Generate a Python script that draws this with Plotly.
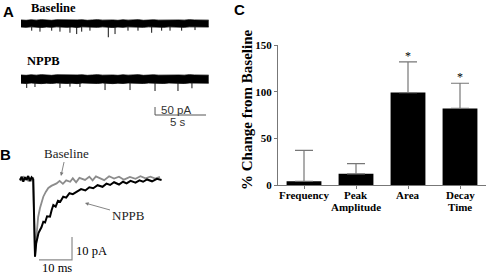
import plotly.graph_objects as go

W, H = 490, 277

def xp(px):
    return px / W

def yp(py):
    return 1 - py / H

# ---------------- Panel A data (time in s, current in pA) ----------------
a_time = [0, 0.5, 1, 1.5, 2, 2.5, 3, 3.5, 4, 4.5, 5, 5.5, 6, 6.5, 7, 7.5, 8, 8.5, 9,
          9.5, 10, 10.5, 11, 11.5, 12, 12.5, 13, 13.5, 14, 14.5, 15, 15.5, 16, 16.5,
          17, 17.5, 18, 18.4]
base_upper = [22, 20, 23, 21, 24, 22, 20, 23, 22, 21, 24, 22, 23, 20, 22, 24, 21, 23, 22,
              20, 23, 21, 22, 24, 20, 22, 23, 21, 22, 20, 23, 22, 21, 24, 22, 20, 22, 21]
base_lower = [-22, -24, -21, -23, -25, -22, -24, -21, -23, -24, -22, -25, -21, -23, -22, -24,
              -21, -23, -25, -22, -24, -21, -23, -22, -24, -21, -23, -22, -24, -21, -23, -22,
              -24, -21, -22, -23, -21, -22]
base_spike_t = [1.05, 1.86, 3.01, 3.82, 4.80, 5.46, 5.95, 6.76, 8.56, 9.22, 10.49, 11.47,
                12.81, 13.79, 14.61, 15.75, 17.06]
base_spike_amp = [-45, -51, -45, -51, -58, -66, -51, -45, -86, -66, -45, -45, -58, -45, -45, -45, -41]

nppb_upper = [25, 23, 26, 24, 27, 25, 23, 26, 25, 24, 27, 25, 26, 23, 25, 27, 24, 26, 25,
              23, 26, 24, 25, 27, 23, 25, 26, 24, 25, 23, 26, 25, 24, 27, 25, 23, 25, 24]
nppb_lower = [-26, -28, -25, -27, -29, -26, -28, -25, -27, -28, -26, -29, -25, -27, -26, -28,
              -25, -27, -29, -26, -28, -25, -27, -26, -28, -25, -27, -26, -28, -25, -27, -26,
              -28, -25, -26, -27, -25, -26]
nppb_spike_t = [0.56, 1.37, 3.82, 4.80, 5.78, 8.24, 10.69, 13.14, 15.39, 16.76]
nppb_spike_amp = [-56, -50, -56, -48, -50, -69, -69, -75, -75, -58]

# ---------------- Panel B data (time in ms, current in pA) ----------------
b_base_t = [0, 0.5, 1, 1.5, 2, 2.5, 3, 3.5, 4.0, 4.55, 4.8, 5.06, 5.5, 6.06, 6.5, 7.06, 7.8,
            8.58, 9.5, 10.5, 11.1, 12, 13, 14, 15.2, 16, 17, 18, 19.7, 21, 22, 23, 24.2, 25.5,
            27, 28.5, 30, 31.5, 33.3, 35, 36.5, 38, 39.5, 41, 42.4]
b_base_i = [0.5, -0.8, 1.2, -0.3, 0.9, -1.0, 0.6, -0.5, 0.8, -33.8, -28.0, -22.2, -16.5, -12.6,
            -9.8, -7.7, -5.6, -3.9, -3.0, -2.2, -1.9, -0.8, -2.1, -0.6, -1.2, 0.3, -1.4, 0.5,
            -0.4, 1.0, -0.6, 1.1, 0.4, -0.5, 1.2, 0.2, 1.0, -0.3, 0.9, 0.1, 1.2, 0.3, 1.0, 0.2, 0.9]
b_nppb_t = [0, 0.5, 1, 1.5, 2, 2.5, 3, 3.5, 4.0, 4.55, 4.9, 5.24, 5.6, 6.06, 6.5, 7.06, 7.6,
            8.2, 9.09, 9.6, 10.1, 10.8, 11.5, 12.2, 13.1, 14, 15, 16, 17.2, 18.5, 19.8, 21,
            22.2, 23.5, 25, 26.2, 27.3, 28.5, 30, 31.2, 32.3, 33.5, 35, 36.2, 37.3, 38.5, 40,
            41.5, 42.9]
b_nppb_i = [-0.6, 1.0, -1.2, 0.8, -0.4, 1.3, -0.9, 0.7, -0.2, -33.8, -28.0, -25.1, -23.5,
            -22.2, -21.0, -18.6, -18.9, -16.2, -16.4, -13.5, -11.3, -12.0, -9.5, -9.9, -7.7,
            -8.1, -6.2, -6.6, -5.5, -4.4, -5.0, -3.6, -4.0, -2.7, -3.4, -2.0, -2.6, -1.4, -2.4,
            -1.2, -1.9, -0.8, -1.6, -0.6, -1.2, -0.2, -1.0, 0.1, -0.4]

# ---------------- Panel C data ----------------
categories = ["Frequency", "Peak<br>Amplitude", "Area", "Decay<br>Time"]
pct_change = [4, 12, 99, 82]
pct_err = [33, 11, 33, 27]
significance = ["", "", "*", "*"]
y_ticks = [0, 50, 100, 150]

fig = go.Figure()

# Panel A traces
def add_band(t, upper, lower, spike_t, spike_amp, yax):
    fig.add_trace(go.Scatter(x=t, y=upper, mode="lines", line=dict(color="black", width=0.8),
                             xaxis="x", yaxis=yax, showlegend=False, hoverinfo="skip"))
    fig.add_trace(go.Scatter(x=t, y=lower, mode="lines", line=dict(color="black", width=0.8),
                             fill="tonexty", fillcolor="black",
                             xaxis="x", yaxis=yax, showlegend=False, hoverinfo="skip"))
    sx, sy = [], []
    for st, sa in zip(spike_t, spike_amp):
        sx += [st, st, None]
        sy += [-20, sa, None]
    fig.add_trace(go.Scatter(x=sx, y=sy, mode="lines", line=dict(color="#111", width=1),
                             xaxis="x", yaxis=yax, showlegend=False, hoverinfo="skip"))

add_band(a_time, base_upper, base_lower, base_spike_t, base_spike_amp, "y")
add_band(a_time, nppb_upper, nppb_lower, nppb_spike_t, nppb_spike_amp, "y2")

# Panel A scale bar (50 pA / 5 s)
fig.add_trace(go.Scatter(x=[13.14, 13.14, 18.14], y=[-175, -225, -225], mode="lines",
                         line=dict(color="#555", width=1), xaxis="x", yaxis="y2",
                         showlegend=False, hoverinfo="skip"))

# Panel B traces
fig.add_trace(go.Scatter(x=b_base_t, y=b_base_i, mode="lines", line=dict(color="#8c8c8c", width=1.8),
                         xaxis="x3", yaxis="y3", showlegend=False, hoverinfo="skip"))
fig.add_trace(go.Scatter(x=b_nppb_t, y=b_nppb_i, mode="lines", line=dict(color="black", width=2),
                         xaxis="x3", yaxis="y3", showlegend=False, hoverinfo="skip"))
# Panel B scale bar (10 pA / 10 ms)
fig.add_trace(go.Scatter(x=[5.76, 15.76, 15.76], y=[-35.2, -35.2, -25.2], mode="lines",
                         line=dict(color="#8c8c8c", width=1.2), xaxis="x3", yaxis="y3",
                         showlegend=False, hoverinfo="skip"))

# Panel C bars
xpos = list(range(len(categories)))
fig.add_trace(go.Bar(x=xpos, y=pct_change, width=0.67, marker=dict(color="black", line=dict(width=0)),
                     error_y=dict(type="data", array=pct_err, arrayminus=[0] * 4, symmetric=False,
                                  color="#777", thickness=1.2, width=9),
                     xaxis="x4", yaxis="y4", showlegend=False, hoverinfo="skip"))

serif = "Liberation Serif, Times New Roman, serif"
sans = "Liberation Sans, Arial, sans-serif"

annotations = []
for i, s in enumerate(significance):
    if s:
        annotations.append(dict(x=i, y=pct_change[i] + pct_err[i], xref="x4", yref="y4", text=s,
                                showarrow=False, yanchor="middle", yshift=6,
                                font=dict(family=serif, size=12, color="#000000")))

# category labels under the C axis (one annotation per text line)
for i, c in enumerate(categories):
    for j, line in enumerate(c.split("<br>")):
        annotations.append(dict(x=i, xref="x4", y=yp(195 + 12.3 * j), yref="paper",
                                text=f"<b>{line}</b>", showarrow=False,
                                xanchor="center", yanchor="middle",
                                font=dict(family=serif, size=11, color="black")))

def txt(text, x, y, size, family=serif, bold=False, color="black"):
    annotations.append(dict(x=xp(x), y=yp(y), xref="paper", yref="paper",
                            text=f"<b>{text}</b>" if bold else text, showarrow=False,
                            xanchor="center", yanchor="middle",
                            font=dict(family=family, size=size, color=color)))

txt("A", 8, 12, 15, sans, True)
txt("B", 5, 154, 15, sans, True)
txt("C", 239, 10, 15, sans, True)
txt("Baseline", 53, 8.5, 12.5, serif, True)
txt("NPPB", 43, 61, 12.5, serif, True)
txt("50 pA", 176, 109.5, 11.5, sans, False, "#333")
txt("5 s", 178, 122, 11.5, sans, False, "#333")
txt("10 pA", 91, 251, 12.5, serif)
txt("10 ms", 57, 268, 12.5, serif)

# Panel B arrows with labels
annotations.append(dict(x=xp(61), y=yp(176), xref="paper", yref="paper", text="Baseline",
                        showarrow=True, ax=5, ay=-23, arrowhead=2, arrowsize=0.8, arrowwidth=0.9,
                        arrowcolor="#777", font=dict(family=serif, size=13, color="#222")))
annotations.append(dict(x=xp(85), y=yp(203), xref="paper", yref="paper", text="NPPB",
                        showarrow=True, ax=43, ay=12, arrowhead=2, arrowsize=0.8, arrowwidth=0.9,
                        arrowcolor="#777", font=dict(family=serif, size=13, color="#222")))

# y-axis title for C
annotations.append(dict(x=xp(247), y=yp(110), xref="paper", yref="paper",
                        text="<b>% Change from Baseline</b>", textangle=-90, showarrow=False,
                        xanchor="center", yanchor="middle",
                        font=dict(family=serif, size=15, color="black")))

hidden = dict(visible=False, automargin=False)
fig.update_layout(
    width=W, height=H,
    margin=dict(l=0, r=0, t=0, b=0, pad=0),
    paper_bgcolor="white", plot_bgcolor="white",
    xaxis=dict(domain=[xp(10), xp(215)], range=[-1.078, 19.02], **hidden),
    yaxis=dict(domain=[yp(42), yp(10)], range=[-115.6, 84.4], anchor="x", **hidden),
    yaxis2=dict(domain=[yp(125), yp(66)], range=[-287.5, 81.25], anchor="x", **hidden),
    xaxis3=dict(domain=[xp(10), xp(170)], range=[-3.03, 45.45], anchor="y3", **hidden),
    yaxis3=dict(domain=[yp(272), yp(145)], range=[-40.43, 14.78], anchor="x3", **hidden),
    xaxis4=dict(domain=[xp(278), xp(486)], range=[-0.5, 3.5], anchor="y4", automargin=False,
                tickvals=xpos, showticklabels=False,
                showline=True, linecolor="#777", linewidth=1, ticks="outside", ticklen=3,
                tickcolor="#777", showgrid=False, zeroline=False),
    yaxis4=dict(domain=[yp(185), yp(45)], range=[0, 150], anchor="x4", automargin=False,
                tickvals=y_ticks, ticktext=[f"<b>{v}</b>" for v in y_ticks],
                showline=True, linecolor="#777", linewidth=1, ticks="outside", ticklen=3,
                tickcolor="#777", showgrid=False, zeroline=False,
                tickfont=dict(family=serif, size=11, color="black")),
    annotations=annotations,
)

fig.write_html("out.html", config={"displayModeBar": False},
               post_script="document.body.style.margin='0px';document.body.style.padding='0px';")
